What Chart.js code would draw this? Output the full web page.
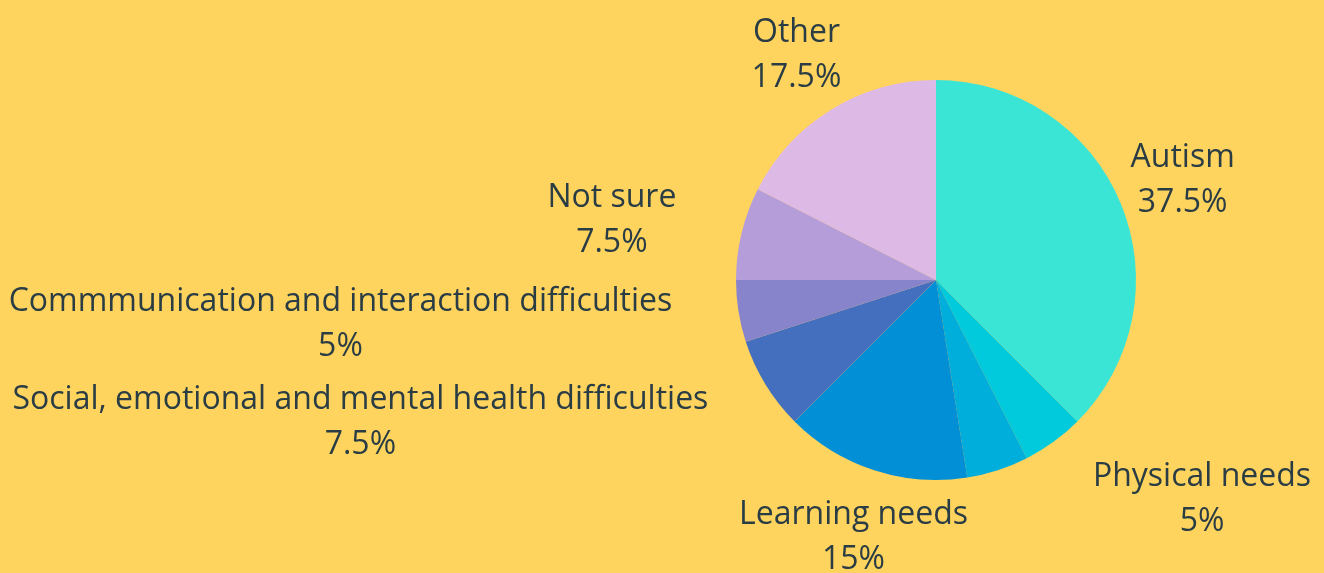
<!DOCTYPE html>
<html>
<head>
<meta charset="utf-8">
<script src="https://cdn.jsdelivr.net/npm/chart.js@4.4.1/dist/chart.umd.min.js"></script>
<style>
  html, body { margin: 0; padding: 0; background: #ffd45e; }
  #wrap { width: 1324px; height: 573px; }
</style>
</head>
<body>
<div id="wrap"><canvas id="myChart"></canvas></div>
<script>
var categories = ['Autism', 'Physical needs', '', 'Learning needs',
  'Social, emotional and mental health difficulties',
  'Commmunication and interaction difficulties', 'Not sure', 'Other'];
var shares = [37.5, 5, 5, 15, 7.5, 5, 7.5, 17.5];
var sliceColors = ['#3ae5d5', '#00cadb', '#00aedc', '#028fd5', '#436fbe', '#8884cc', '#b59dd9', '#ddb9e6'];

// labels outside the pie: name + percentage, centred unless that would cover the pie
var outsideLabels = {
  id: 'outsideLabels',
  afterDatasetsDraw: function(chart) {
    var c = chart.ctx;
    var meta = chart.getDatasetMeta(0);
    var fontSize = 32, lineH = 45;
    c.save();
    c.font = fontSize + 'px "Open Sans"';
    c.fillStyle = '#2a3c44';
    c.textBaseline = 'middle';
    meta.data.forEach(function(arc, i) {
      var name = chart.data.labels[i];
      if (!name) return;
      var mid = (arc.startAngle + arc.endAngle) / 2;
      var R = arc.outerRadius + 67;
      var ax = arc.x + Math.cos(mid) * R;
      var ay = arc.y + Math.sin(mid) * R;
      var pct = chart.data.datasets[0].data[i] + '%';
      var w = Math.max(c.measureText(name).width, c.measureText(pct).width);
      var h = lineH * 2;
      // test centred box against the circle
      var left = ax - w / 2, top = ay - h / 2;
      var nx = Math.max(left, Math.min(arc.x, left + w));
      var ny = Math.max(top, Math.min(arc.y, top + h));
      var cx = ax;
      if (Math.hypot(nx - arc.x, ny - arc.y) < arc.outerRadius) {
        cx = Math.cos(mid) > 0 ? ax + w / 2 : ax - w / 2;
      }
      c.textAlign = 'center';
      c.fillText(name, cx, ay - lineH / 2 + 3);
      c.fillText(pct, cx, ay + lineH / 2 + 3);
    });
    c.restore();
  }
};

var ctx = document.getElementById('myChart').getContext('2d');
var myChart = new Chart(ctx, {
  type: 'pie',
  data: {
    labels: categories,
    datasets: [{
      data: shares,
      backgroundColor: sliceColors,
      borderWidth: 0
    }]
  },
  options: {
    responsive: true,
    maintainAspectRatio: false,
    animation: false,
    layout: { padding: { left: 736, right: 188, top: 80, bottom: 93 } },
    plugins: {
      legend: { display: false },
      tooltip: { enabled: false }
    }
  },
  plugins: [outsideLabels]
});
</script>
</body>
</html>
